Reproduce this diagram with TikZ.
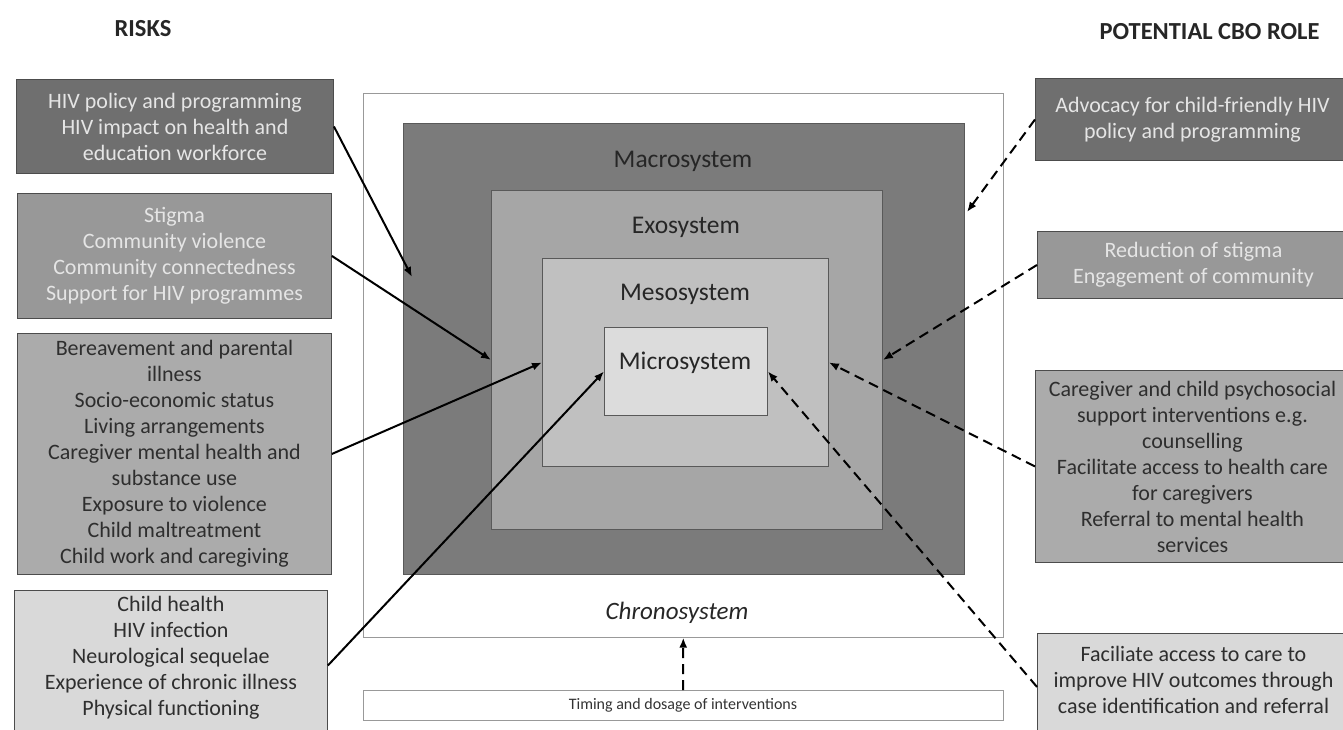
\documentclass[tikz,border=0pt]{standalone}
\usepackage{fontspec}
\setmainfont{Carlito}
\usetikzlibrary{positioning,arrows.meta}

\definecolor{shadeA}{HTML}{6F6F6F}
\definecolor{shadeB}{HTML}{989898}
\definecolor{shadeC}{HTML}{ABABAB}
\definecolor{shadeD}{HTML}{D9D9D9}
\definecolor{macrofill}{HTML}{7B7B7B}
\definecolor{exofill}{HTML}{A6A6A6}
\definecolor{mesofill}{HTML}{C0C0C0}
\definecolor{microfill}{HTML}{DCDCDC}

\begin{document}
\begin{tikzpicture}[
  x=1pt, y=-1pt,
  >={Latex[length=10pt,width=8pt]},
  box/.style={
    draw=black!70, line width=0.9pt, align=center, anchor=north west,
    inner sep=4pt, font=\fontsize{22}{26}\selectfont
  },
  darkbox/.style={box, fill=shadeA, text=white!90!black},
  midbox/.style={box, fill=shadeB, text=white!90!black},
  lightbox/.style={box, fill=shadeC, text=black!82},
  palebox/.style={box, fill=shadeD, text=black!82},
  sysbox/.style={draw=black!65, line width=0.9pt, anchor=north west, inner sep=0pt},
  syslabel/.style={font=\fontsize{25.5}{30}\selectfont, text=black!85},
  head/.style={font=\bfseries\fontsize{24.5}{29}\selectfont, text=black!85},
  link/.style={->, line width=2pt},
  dlink/.style={link, dash pattern=on 10pt off 6pt}
]
\useasboundingbox (0,0) rectangle (1343,729);

% ---------- headings ----------
\node[head] (riskhead) at (143,29) {RISKS};
\node[head, anchor=east] (rolehead) at (1323,32) {POTENTIAL CBO ROLE};

% ---------- nested systems ----------
\node[sysbox, draw=black!40, line width=0.6pt, minimum width=640pt, minimum height=544pt] (chrono) at (363,93) {};
\node[sysbox, fill=macrofill, minimum width=561pt, minimum height=451pt] (macro) at (403,123) {};
\node[sysbox, fill=exofill, minimum width=391pt, minimum height=339pt] (exo) at (491,190) {};
\node[sysbox, fill=mesofill, minimum width=286pt, minimum height=208pt] (meso) at (542,258) {};
\node[sysbox, fill=microfill, minimum width=163pt, minimum height=88pt] (micro) at (604,327) {};

\node[syslabel] (macrolab) at (683,161) {Macrosystem};
\node[syslabel] (exolab) at (686,227) {Exosystem};
\node[syslabel] (mesolab) at (685,294) {Mesosystem};
\node[syslabel] (microlab) at (685,363) {Microsystem};
\node[syslabel, font=\itshape\fontsize{25}{30}\selectfont] (chronolab) at (677,613) {Chronosystem};

\node[sysbox, draw=black!40, line width=0.6pt, minimum width=640pt, minimum height=30pt,
  anchor=north] (timing) at (683,690) {};
\node[font=\fontsize{16}{19}\selectfont, text=black!80] (timinglab) at (timing.center) {Timing and dosage of interventions};

% ---------- risks (left) ----------
\node[darkbox, minimum width=317pt, minimum height=94pt] (polrisk) at (16,79) {
  HIV policy and programming\\
  HIV impact on health and\\
  education workforce};
\node[midbox, minimum width=314pt, minimum height=125pt] (comrisk) at (17,193) {
  Stigma\\
  Community violence\\
  Community connectedness\\
  Support for HIV programmes};
\node[lightbox, minimum width=314pt, minimum height=241pt] (famrisk) at (17,333) {
  Bereavement and parental\\
  illness\\
  Socio-economic status\\
  Living arrangements\\
  Caregiver mental health and\\
  substance use\\
  Exposure to violence\\
  Child maltreatment\\
  Child work and caregiving};
\node[palebox, minimum width=313pt, minimum height=150pt] (childrisk) at (14,590) {
  Child health\\
  HIV infection\\
  Neurological sequelae\\
  Experience of chronic illness\\
  Physical functioning\rule[-20pt]{0pt}{0pt}};

% ---------- CBO roles (right) ----------
\node[darkbox, minimum width=314pt, minimum height=82pt] (advrole) at (1035,78) {
  Advocacy for child-friendly HIV\\
  policy and programming};
\node[midbox, minimum width=312pt, minimum height=67pt] (comrole) at (1037,231) {
  Reduction of stigma\\
  Engagement of community};
\node[lightbox, minimum width=314pt, minimum height=192pt] (famrole) at (1035,370) {
  Caregiver and child psychosocial\\
  support interventions e.g.\\
  counselling\\
  Facilitate access to health care\\
  for caregivers\\
  Referral to mental health\\
  services};
\node[palebox, minimum width=312pt, minimum height=107pt] (childrole) at (1037,633) {
  Faciliate access to care to\\
  improve HIV outcomes through\\
  case identification and referral\rule[-14pt]{0pt}{0pt}};

% ---------- connectors ----------
\coordinate (macroin) at (412,277);
\coordinate (chronoin) at (967,212);

\draw[link] (polrisk.east) -- (macroin);
\draw[link] (comrisk.east) -- (exo.west);
\draw[link] (famrisk.east) -- (meso.west);
\draw[link] (childrisk.east) -- (micro.west);

\draw[dlink] (advrole.west) -- (chronoin);
\draw[dlink] (comrole.west) -- (exo.east);
\draw[dlink] (famrole.west) -- (meso.east);
\draw[dlink] (childrole.west) -- (micro.east);
\draw[dlink] (timing.north) -- (chrono.south);

\end{tikzpicture}
\end{document}
